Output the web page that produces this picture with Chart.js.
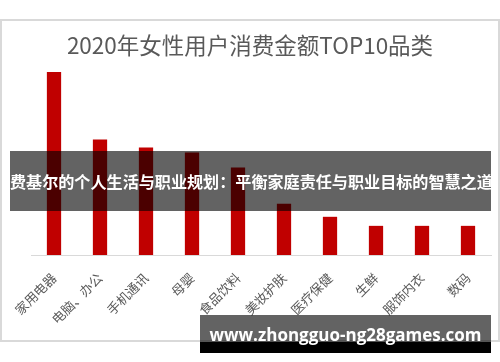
<!DOCTYPE html>
<html>
<head>
<meta charset="utf-8">
<script src="https://cdn.jsdelivr.net/npm/chart.js@4"></script>
<style>
  body { margin: 0; background: #fff; width: 500px; height: 362px; overflow: hidden; position: relative; }
  #frame { position: absolute; left: 0; top: 19px; width: 496px; height: 319px; border: 2px solid #d9d9d9; }
  #chart { position: absolute; left: 0; top: 0; }
  .band { position: absolute; color: #fff; text-align: center; white-space: nowrap; }
  #band1 { left: 10px; top: 151px; width: 481px; height: 60px;
           background: rgba(0,0,0,0.61); font: bold 16.1px "Noto Sans CJK SC"; line-height: 60px; }
  #band2 { left: 200px; top: 315px; width: 291px; height: 38px;
           background: linear-gradient(to bottom, rgba(0,0,0,0.61) 0, rgba(0,0,0,0.61) 27px, #000 27px);
           font: bold 17px "Open Sans"; line-height: 40px; }
</style>
</head>
<body>
<div id="frame"></div>
<canvas id="chart" width="500" height="362"></canvas>
<div class="band" id="band1">费基尔的个人生活与职业规划：平衡家庭责任与职业目标的智慧之道</div>
<div class="band" id="band2">www.zhongguo-ng28games.com</div>
<script>
let titleText = '2020年女性用户消费金额TOP10品类';
let categories = ['家用电器', '电脑、办公', '手机通讯', '母婴', '食品饮料', '美妆护肤', '医疗保健', '生鲜', '服饰内衣', '数码'];
let amounts = [182, 115, 107, 102, 87, 51, 38, 29, 29, 29];

window.onload = function () {
    let ctx = document.getElementById('chart');
    new Chart(ctx, {
        type: 'bar',
        data: {
            labels: categories,
            datasets: [{
                data: amounts,
                backgroundColor: '#c00000',
                borderWidth: 0,
                barPercentage: 0.31,
                categoryPercentage: 1
            }]
        },
        options: {
            responsive: false,
            animation: false,
            layout: { padding: { left: 9, right: 9, top: 0, bottom: 0 } },
            plugins: {
                legend: { display: false },
                tooltip: { enabled: false },
                title: {
                    display: true,
                    text: titleText,
                    color: '#595959',
                    font: { family: 'Noto Sans CJK SC', size: 22.5, weight: 'normal' },
                    padding: { top: 32, bottom: 0 }
                }
            },
            scales: {
                y: {
                    min: 0, max: 195,
                    grid: { display: false },
                    border: { display: false },
                    ticks: { display: false },
                    afterFit: function (s) { s.width = 22; }
                },
                x: {
                    grid: { display: false },
                    border: { display: true, color: '#d9d9d9', width: 1 },
                    ticks: {
                        color: '#595959',
                        font: { family: 'Noto Sans CJK SC', size: 13 },
                        minRotation: 45,
                        maxRotation: 45,
                        padding: 7
                    },
                    afterFit: function (s) { s.height = 107; }
                }
            }
        }
    });
};
</script>
</body>
</html>
